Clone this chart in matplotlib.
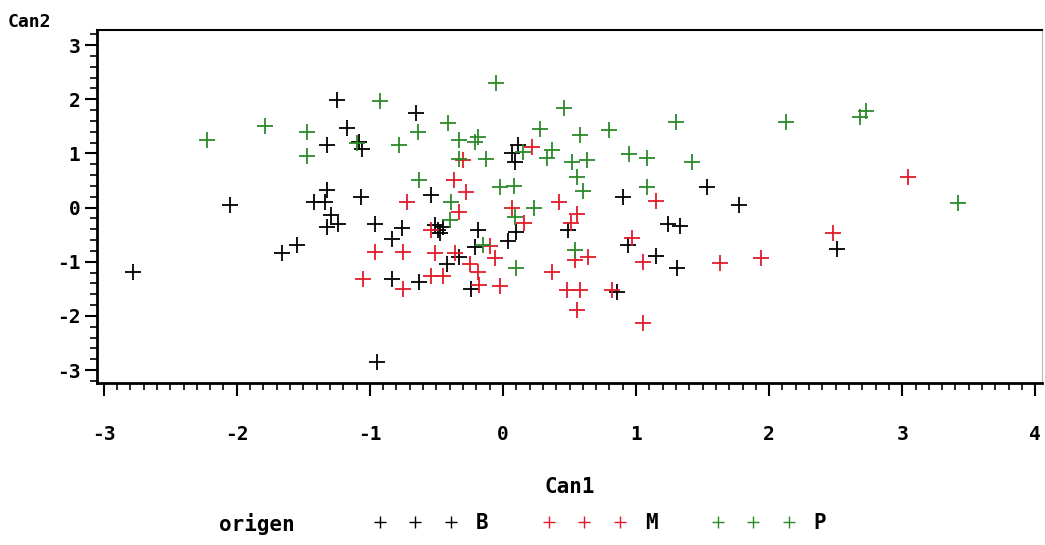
import matplotlib
matplotlib.use("Agg")
import matplotlib.pyplot as plt
from matplotlib.ticker import MultipleLocator
from matplotlib.lines import Line2D

plt.rcParams['font.family'] = 'DejaVu Sans Mono'
plt.rcParams['font.weight'] = 'bold'
plt.rcParams['axes.unicode_minus'] = False

# puntuaciones canonicas por grupo de origen
b_can1 = [-2.78, -2.05, -1.66, -1.55, -1.25, -1.17, -1.32, -1.08, -1.06, -1.32,
          -1.42, -1.34, -1.07, -1.29, -1.32, -1.24, -0.96, -0.76, -0.83, -0.95,
          -0.83, -0.65, -0.63, -0.54, -0.51, -0.47, -0.49, -0.45, -0.19, -0.21,
          0.04, -0.33, -0.42, -0.24, 0.07, 0.09, 0.11, 0.10, 0.90, 0.49,
          0.94, 0.86, 1.53, 1.77, 1.24, 1.33, 1.15, 1.31, 2.51]
b_can2 = [-1.19, 0.05, -0.84, -0.69, 1.98, 1.47, 1.15, 1.21, 1.08, 0.32,
          0.10, 0.10, 0.19, -0.14, -0.36, -0.30, -0.30, -0.38, -0.58, -2.85,
          -1.32, 1.74, -1.38, 0.23, -0.32, -0.47, -0.42, -0.36, -0.42, -0.73,
          -0.62, -0.91, -1.04, -1.50, 1.01, 0.84, 1.15, -0.45, 0.19, -0.42,
          -0.69, -1.56, 0.38, 0.05, -0.30, -0.34, -0.90, -1.12, -0.77]

m_can1 = [-0.72, -0.96, -0.75, -1.05, -0.75, -0.30, -0.37, -0.28, -0.33, 0.07,
          -0.54, -0.10, -0.06, -0.51, -0.36, -0.25, -0.19, -0.54, -0.45, -0.18,
          -0.02, 0.22, 0.42, 0.56, 0.51, 0.16, 0.54, 0.64, 0.37, 0.48,
          0.58, 0.82, 0.56, 1.15, 0.97, 1.05, 1.63, 1.94, 1.05, 2.48, 3.04]
m_can2 = [0.10, -0.82, -0.82, -1.32, -1.50, 0.88, 0.51, 0.29, -0.08, -0.01,
          -0.42, -0.71, -0.93, -0.84, -0.84, -1.04, -1.19, -1.26, -1.26, -1.43,
          -1.45, 1.12, 0.10, -0.12, -0.29, -0.29, -0.97, -0.91, -1.19, -1.52,
          -1.52, -1.52, -1.89, 0.12, -0.56, -1.01, -1.02, -0.93, -2.13, -0.47, 0.56]

p_can1 = [-2.22, -1.79, -1.47, -1.47, -0.92, -1.10, -0.78, -0.64, -0.63, -0.05,
          -0.41, -0.33, -0.21, -0.19, -0.33, -0.13, -0.02, 0.08, -0.39, -0.40,
          -0.15, 0.10, 0.09, 0.46, 0.28, 0.58, 0.80, 0.37, 0.33, 0.52,
          0.63, 0.56, 0.60, 0.15, 0.23, 0.54, 0.95, 1.08, 1.30, 1.42,
          1.08, 2.13, 2.68, 2.73, 3.42]
p_can2 = [1.25, 1.50, 1.39, 0.95, 1.97, 1.19, 1.15, 1.39, 0.51, 2.30,
          1.56, 1.25, 1.21, 1.30, 0.90, 0.90, 0.38, 0.40, 0.10, -0.23,
          -0.69, -1.12, -0.18, 1.84, 1.45, 1.34, 1.43, 1.06, 0.91, 0.84,
          0.88, 0.56, 0.30, 1.02, -0.01, -0.78, 0.99, 0.91, 1.58, 0.84,
          0.38, 1.58, 1.67, 1.78, 0.08]

grupos = ["B", "M", "P"]
colores = ["black", "#e41a2a", "#2a8a2a"]
datos = [(b_can1, b_can2), (m_can1, m_can2), (p_can1, p_can2)]

fig = plt.figure(figsize=(10.45, 5.45), dpi=100)
ax = fig.add_axes([97/1045, 1 - 383/545, (1042 - 97)/1045, (383 - 30)/545])

for g, c, (x, y) in zip(grupos, colores, datos):
    ax.plot(x, y, linestyle="none", marker="+", markersize=11, mew=1.3, color=c)

ax.set_xlim(-3.05, 4.05)
ax.set_ylim(-3.24, 3.28)
ax.xaxis.set_major_locator(MultipleLocator(1))
ax.xaxis.set_minor_locator(MultipleLocator(0.1))
ax.yaxis.set_major_locator(MultipleLocator(1))
ax.yaxis.set_minor_locator(MultipleLocator(0.2))
ax.tick_params(axis="both", which="major", length=9, width=1.5, labelsize=14)
ax.tick_params(axis="both", which="minor", length=5, width=1.2)
ax.tick_params(axis="x", which="major", pad=21)
ax.tick_params(axis="y", which="major", pad=3)
for s in ["left", "bottom"]:
    ax.spines[s].set_linewidth(2)
ax.spines["top"].set_linewidth(1.5)
ax.spines["right"].set_linewidth(0.8)
ax.spines["right"].set_color("#bbbbbb")

ax.set_xlabel("Can1", fontsize=15, fontweight="bold", labelpad=24)
fig.text(8/1045, 1 - 22/545, "Can2", fontsize=13, fontweight="bold", va="center", ha="left")

handles = [Line2D([], [], linestyle="none", marker="+", markersize=9, mew=1.0, color=c)
           for c in colores]
fig.text(257/1045, 1 - 524/545, "origen", fontsize=15, fontweight="bold",
         va="center", ha="center")
leg = fig.legend(handles, grupos, ncol=3, numpoints=3, frameon=False,
                 loc="center left", bbox_to_anchor=(355/1045, 1 - 523/545),
                 handlelength=4.0, handletextpad=0.9, columnspacing=2.6,
                 prop={"family": "DejaVu Sans Mono", "weight": "bold", "size": 15})

fig.savefig("out.png", dpi=100)
